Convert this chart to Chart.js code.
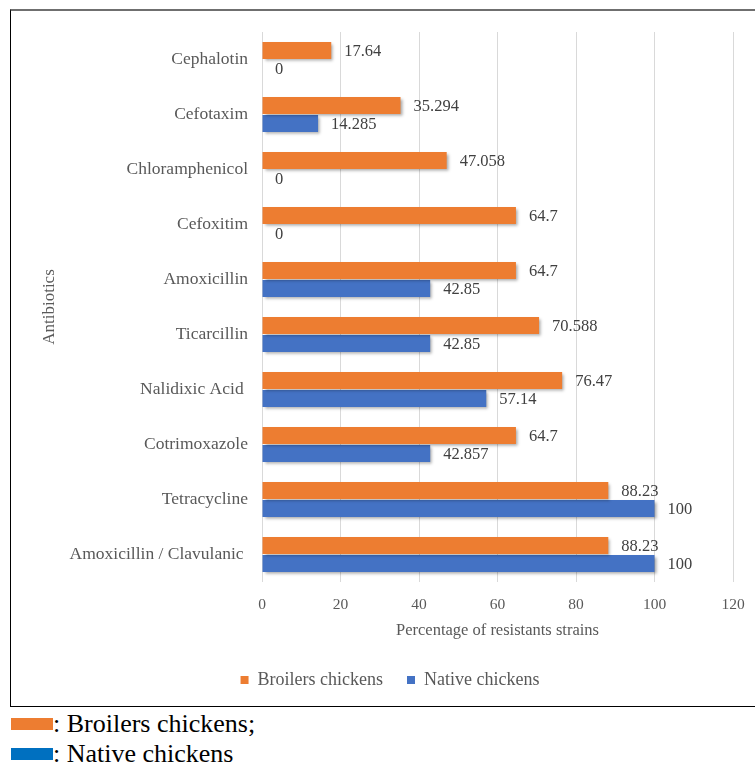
<!DOCTYPE html>
<html lang="en">

<head>
    <meta charset="UTF-8">
    <title>Antibiotic resistance</title>
    <script src="https://cdn.jsdelivr.net/npm/chart.js"></script>
    <style>
        body {
            margin: 0;
            background: #fff;
            font-family: "Liberation Serif", "Times New Roman", serif;
            overflow: hidden;
        }

        .moldura {
            position: absolute;
            left: 10px;
            top: 9px;
            width: 800px;
            height: 695px;
            border: 1px solid #000;
            border-top: 2px solid #6f6f6f;
        }

        #grafico {
            position: absolute;
            left: 0;
            top: 0;
        }

        .nota {
            position: absolute;
            left: 11px;
            font-size: 26px;
            color: #000;
            line-height: 30px;
        }

        .nota span {
            display: inline-block;
            width: 42px;
            height: 12px;
            vertical-align: 2px;
        }
    </style>
</head>

<body>
    <div class="moldura">
        <canvas id="grafico" width="744" height="695"></canvas>
    </div>

    <div class="nota" style="top:709px"><span style="background:#ed7d31"></span>: Broilers chickens;</div>
    <div class="nota" style="top:739px"><span style="background:#0070c0"></span>: Native chickens</div>

    <script>
        // dados
        const antibioticos = ['Cephalotin', 'Cefotaxim', 'Chloramphenicol', 'Cefoxitim', 'Amoxicillin',
            'Ticarcillin', 'Nalidixic Acid ', 'Cotrimoxazole', 'Tetracycline', 'Amoxicillin / Clavulanic '];
        const broilers = [17.64, 35.294, 47.058, 64.7, 64.7, 70.588, 76.47, 64.7, 88.23, 88.23];
        const nativos = [0, 14.285, 0, 0, 42.85, 42.85, 57.14, 42.857, 100, 100];
        const rotulosBroilers = ['17.64', '35.294', '47.058', '64.7', '64.7', '70.588', '76.47', '64.7', '88.23', '88.23'];
        const rotulosNativos = ['0', '14.285', '0', '0', '42.85', '42.85', '57.14', '42.857', '100', '100'];
        const ticksX = [0, 20, 40, 60, 80, 100, 120];

        const fonte = "'Liberation Serif', 'Times New Roman', serif";
        const cinza = '#595959';

        // sombra nas barras
        const sombra = {
            id: 'sombra',
            beforeDatasetsDraw(chart) {
                const ctx = chart.ctx;
                ctx.save();
                ctx.shadowColor = 'rgba(0,0,0,0.35)';
                ctx.shadowBlur = 3;
                ctx.shadowOffsetX = 2;
                ctx.shadowOffsetY = 2;
            },
            afterDatasetsDraw(chart) {
                chart.ctx.restore();
            }
        };

        // rotulos ao lado das barras
        const rotulos = {
            id: 'rotulos',
            afterDatasetsDraw(chart) {
                const ctx = chart.ctx;
                const textos = [rotulosBroilers, rotulosNativos];
                ctx.save();
                ctx.font = "16.5px " + fonte;
                ctx.fillStyle = '#404040';
                ctx.textAlign = 'left';
                ctx.textBaseline = 'middle';
                chart.data.datasets.forEach(function (ds, d) {
                    const meta = chart.getDatasetMeta(d);
                    meta.data.forEach(function (barra, i) {
                        ctx.fillText(textos[d][i], barra.x + 13, barra.y + 1);
                    });
                });
                ctx.restore();
            }
        };

        // empurra a legenda um pouco para a direita
        const moveLegenda = {
            id: 'moveLegenda',
            afterLayout(chart) {
                if (chart.legend) {
                    chart.legend.left += 6;
                    chart.legend.right += 6;
                }
            }
        };

        const config = {
            type: 'bar',
            data: {
                labels: antibioticos,
                datasets: [{
                    label: 'Broilers chickens',
                    data: broilers,
                    backgroundColor: '#ed7d31'
                }, {
                    label: 'Native chickens',
                    data: nativos,
                    backgroundColor: '#4472c4'
                }]
            },
            options: {
                indexAxis: 'y',
                responsive: false,
                animation: false,
                layout: {
                    padding: { left: 24, right: 22, top: 21, bottom: 7 }
                },
                datasets: {
                    bar: {
                        categoryPercentage: 0.66,
                        barPercentage: 0.94
                    }
                },
                scales: {
                    x: {
                        min: 0,
                        max: 120,
                        afterBuildTicks: function (scale) {
                            scale.ticks = ticksX.map(v => ({ value: v }));
                        },
                        afterFit: function (scale) {
                            scale.height = 65;
                        },
                        grid: {
                            color: '#d9d9d9',
                            drawTicks: true,
                            tickLength: 12,
                            tickColor: 'rgba(0,0,0,0)'
                        },
                        border: { display: false },
                        ticks: {
                            padding: 2,
                            color: cinza,
                            font: { family: fonte, size: 15.5 }
                        },
                        title: {
                            display: true,
                            text: 'Percentage of resistants strains',
                            color: cinza,
                            font: { family: fonte, size: 16.5 },
                            padding: { top: 4, bottom: 6 }
                        }
                    },
                    y: {
                        afterFit: function (scale) {
                            scale.width = 227;
                        },
                        grid: { display: false, drawTicks: true, tickLength: 12 },
                        border: { display: false },
                        ticks: {
                            padding: 2,
                            color: cinza,
                            font: { family: fonte, size: 17.5 }
                        },
                        title: {
                            display: true,
                            text: 'Antibiotics',
                            color: cinza,
                            font: { family: fonte, size: 17 },
                            padding: 4
                        }
                    }
                },
                plugins: {
                    legend: {
                        position: 'bottom',
                        labels: {
                            boxWidth: 8,
                            boxHeight: 8,
                            padding: 24,
                            color: cinza,
                            font: { family: fonte, size: 18 }
                        }
                    },
                    tooltip: { enabled: false }
                }
            },
            plugins: [sombra, rotulos, moveLegenda]
        };

        let grafico = new Chart(document.getElementById('grafico'), config);
    </script>
</body>

</html>
